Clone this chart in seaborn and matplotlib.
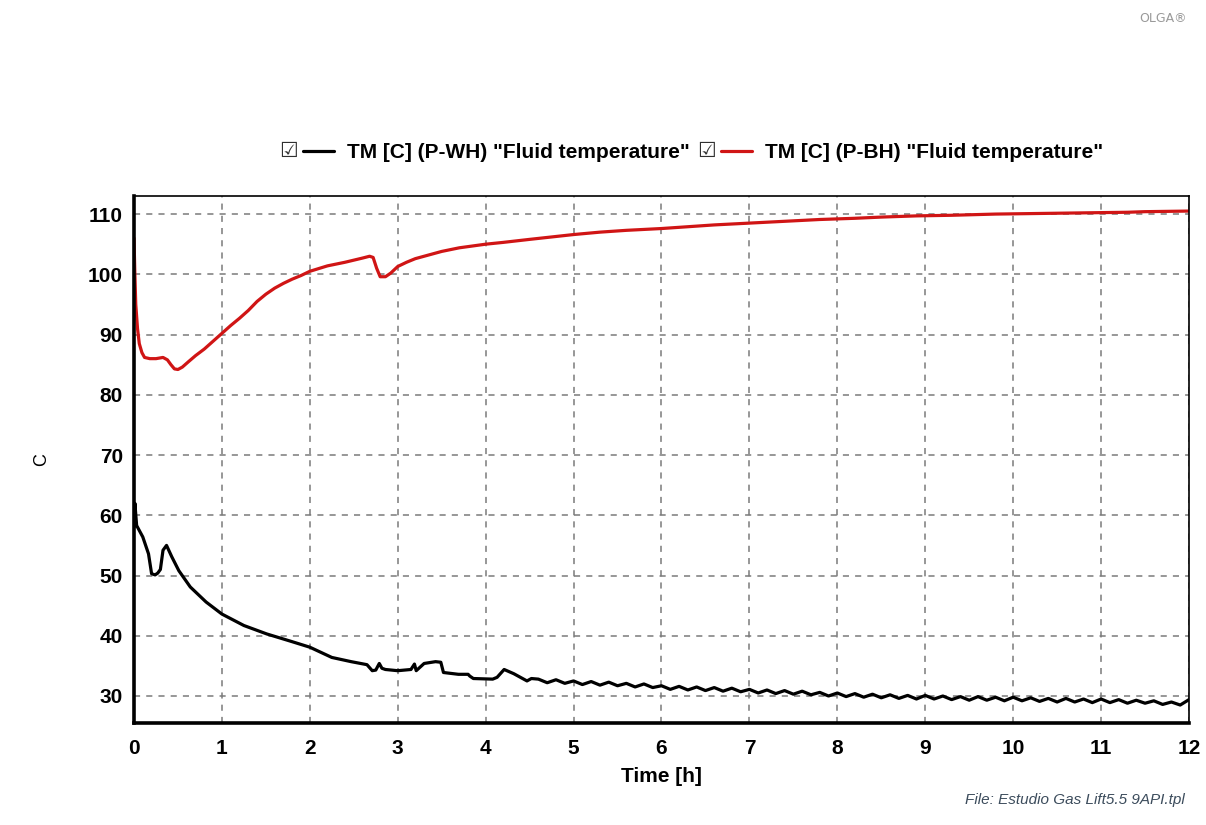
import matplotlib
matplotlib.use("Agg")
import matplotlib.pyplot as plt
import seaborn as sns
import pandas as pd
from matplotlib.lines import Line2D

# --- data -----------------------------------------------------------------
# Wellhead fluid temperature (P-WH), C
t_wh = [0.0, 0.01, 0.03, 0.10, 0.165, 0.20, 0.24, 0.27, 0.30, 0.33, 0.37,
        0.43, 0.51, 0.64, 0.82, 1.00, 1.25, 1.51, 1.78, 2.00, 2.25, 2.47,
        2.65, 2.71, 2.75, 2.79, 2.82, 2.86, 3.00, 3.15, 3.19, 3.21, 3.30,
        3.43, 3.49, 3.52, 3.69, 3.80, 3.82, 3.86, 4.08, 4.13, 4.21, 4.32,
        4.47, 4.52,
        4.6, 4.7, 4.8, 4.9,
        5.0, 5.1, 5.2, 5.3, 5.4, 5.5, 5.6, 5.7, 5.8, 5.9,
        6.0, 6.1, 6.2, 6.3, 6.4, 6.5, 6.6, 6.7, 6.8, 6.9,
        7.0, 7.1, 7.2, 7.3, 7.4, 7.5, 7.6, 7.7, 7.8, 7.9,
        8.0, 8.1, 8.2, 8.3, 8.4, 8.5, 8.6, 8.7, 8.8, 8.9,
        9.0, 9.1, 9.2, 9.3, 9.4, 9.5, 9.6, 9.7, 9.8, 9.9,
        10.0, 10.1, 10.2, 10.3, 10.4, 10.5, 10.6, 10.7, 10.8, 10.9,
        11.0, 11.1, 11.2, 11.3, 11.4, 11.5, 11.6, 11.7, 11.8, 11.9,
        12.0]
tm_wh = [58.0, 62.0, 58.3, 56.4, 53.6, 50.3, 50.1, 50.4, 51.0, 54.2, 55.0,
         53.1, 50.8, 48.1, 45.6, 43.6, 41.7, 40.3, 39.1, 38.1, 36.4, 35.7,
         35.2, 34.2, 34.3, 35.4, 34.6, 34.4, 34.2, 34.4, 35.3, 34.2, 35.4,
         35.7, 35.6, 33.9, 33.6, 33.6, 33.3, 32.9, 32.8, 33.1, 34.4, 33.7,
         32.5, 32.9,
         32.8, 32.2, 32.7, 32.1,
         32.5, 31.9, 32.4, 31.8, 32.3, 31.7, 32.1, 31.5, 32.0, 31.4,
         31.7, 31.1, 31.6, 31.0, 31.5, 30.9, 31.4, 30.8, 31.3, 30.7,
         31.1, 30.5, 31.0, 30.4, 30.9, 30.3, 30.8, 30.2, 30.6, 30.0,
         30.5, 29.9, 30.4, 29.8, 30.3, 29.7, 30.2, 29.6, 30.1, 29.5,
         30.1, 29.5, 30.0, 29.4, 29.9, 29.3, 29.9, 29.3, 29.8, 29.2,
         29.8, 29.2, 29.7, 29.1, 29.6, 29.0, 29.6, 29.0, 29.5, 28.9,
         29.5, 28.9, 29.4, 28.8, 29.3, 28.8, 29.2, 28.6, 29.0, 28.5,
         29.4]

# Bottomhole fluid temperature (P-BH), C
t_bh = [0.0, 0.01, 0.02, 0.04, 0.06, 0.09, 0.12, 0.18, 0.25, 0.33, 0.38,
        0.42, 0.46, 0.50, 0.55, 0.62, 0.70, 0.80, 0.90, 1.00, 1.10, 1.20,
        1.30, 1.40, 1.50, 1.60, 1.70, 1.80, 1.90, 2.00, 2.20, 2.40, 2.60,
        2.68, 2.72, 2.76, 2.80, 2.86, 2.92, 3.00, 3.10, 3.20, 3.35, 3.50,
        3.70, 4.00, 4.20, 4.50, 5.00, 5.30, 5.60, 6.00, 6.30, 6.60, 7.00,
        7.40, 7.80, 8.20, 8.50, 8.90, 9.30, 9.80, 10.30, 10.80, 11.30,
        11.50, 12.00]
tm_bh = [106.0, 100.0, 95.0, 91.0, 88.5, 87.0, 86.2, 86.0, 86.0, 86.2, 85.8,
         85.0, 84.3, 84.2, 84.6, 85.5, 86.5, 87.6, 88.9, 90.2, 91.5, 92.7,
         94.0, 95.5, 96.7, 97.7, 98.5, 99.2, 99.8, 100.5, 101.4, 102.0, 102.7,
         103.0, 102.8, 101.0, 99.6, 99.6, 100.2, 101.3, 102.0, 102.6, 103.2,
         103.8, 104.4, 105.0, 105.3, 105.8, 106.6, 107.0, 107.3, 107.6, 107.9,
         108.2, 108.5, 108.8, 109.1, 109.3, 109.5, 109.7, 109.8, 110.0, 110.1,
         110.2, 110.3, 110.4, 110.5]

labels = ['TM [C] (P-WH) "Fluid temperature"',
          'TM [C] (P-BH) "Fluid temperature"']
colors = ["#000000", "#d01515"]
x_ticks = list(range(0, 13))
y_ticks = [30, 40, 50, 60, 70, 80, 90, 100, 110]

df_wh = pd.DataFrame({"t": t_wh, "T": tm_wh})
df_bh = pd.DataFrame({"t": t_bh, "T": tm_bh})

# --- style ----------------------------------------------------------------
sns.set_style("white")
narrow = ["Liberation Sans Narrow", "Liberation Sans", "DejaVu Sans"]
plt.rcParams["font.family"] = narrow
plt.rcParams["text.color"] = "black"
plt.rcParams["axes.labelcolor"] = "black"
plt.rcParams["xtick.labelcolor"] = "black"
plt.rcParams["ytick.labelcolor"] = "black"

fig = plt.figure(figsize=(12.06, 8.25), dpi=100)
ax = fig.add_axes([134 / 1206, 1 - 722.5 / 825, (1189 - 134) / 1206,
                   (722.5 - 196) / 825])

sns.lineplot(data=df_wh, x="t", y="T", ax=ax, color=colors[0], lw=2.3,
             estimator=None, sort=False, label=labels[0])
sns.lineplot(data=df_bh, x="t", y="T", ax=ax, color=colors[1], lw=2.3,
             estimator=None, sort=False, label=labels[1])

ax.set_xlim(0, 12)
ax.set_ylim(25.6, 113.0)
ax.set_xticks(x_ticks)
ax.set_yticks(y_ticks)
ax.set_xticklabels([str(v) for v in x_ticks])
ax.set_yticklabels([str(v) for v in y_ticks])

ax.grid(True, color="#7a7a7a", linestyle=(0, (4, 4)), linewidth=1.1)
ax.set_axisbelow(True)
ax.tick_params(axis="both", direction="out", length=5, width=1,
               color="#7a7a7a", labelsize=15)
ax.tick_params(axis="x", pad=7)
ax.tick_params(axis="y", pad=3)
for lab in ax.get_xticklabels() + ax.get_yticklabels():
    lab.set_fontweight("bold")

for side in ("left", "bottom"):
    ax.spines[side].set_linewidth(2.6)
    ax.spines[side].set_color("black")
for side in ("top", "right"):
    ax.spines[side].set_linewidth(1.2)
    ax.spines[side].set_color("black")

ax.set_xlabel("Time [h]", fontsize=15, fontweight="bold", labelpad=6)
ax.set_ylabel("C", fontsize=13, family=["Liberation Sans", "DejaVu Sans"],
              labelpad=0)
ax.yaxis.set_label_coords(-84 / 1055, 0.5)

# legend row above the plot, each entry preceded by a ticked box
handles = [Line2D([], [], color=c, lw=2.3) for c in colors]
ax.get_legend().remove()
leg = fig.legend(handles, labels, ncol=2, loc="center",
                 bbox_to_anchor=(703 / 1206, 1 - 153 / 825),
                 frameon=False, handlelength=1.5, handletextpad=0.6,
                 columnspacing=1.5,
                 prop={"family": narrow, "weight": "bold", "size": 15})
fig.canvas.draw()
inv = fig.transFigure.inverted()
for h in leg.legend_handles:
    bb = h.get_window_extent(fig.canvas.get_renderer())
    x0, y0 = inv.transform((bb.x0, (bb.y0 + bb.y1) / 2))
    fig.text(x0 - 5 / 1206, y0, "\u2611", ha="right", va="center",
             fontsize=15, color="#303030", family=["DejaVu Sans"])

fig.text(1187 / 1206, 1 - 18 / 825, "OLGA\u00ae", ha="right", va="center",
         fontsize=9, color="#9a9a9a", family=["DejaVu Sans"])
fig.text(1185 / 1206, 1 - 800 / 825, "File: Estudio Gas Lift5.5 9API.tpl",
         ha="right", va="center", fontsize=11, style="italic",
         color="#3c4c5c", family=["Liberation Sans", "DejaVu Sans"])

fig.savefig("out.png", dpi=100)
